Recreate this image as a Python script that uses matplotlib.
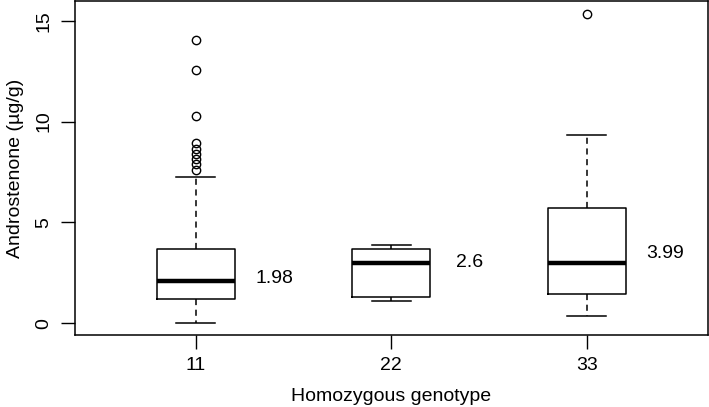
import matplotlib.pyplot as plt

plt.rcParams['font.family'] = ['Liberation Sans', 'DejaVu Sans']

# Boxplot statistics per genotype
genotypes = ['11', '22', '33']
q1 = [1.20, 1.32, 1.45]
medians = [2.09, 3.00, 3.00]
q3 = [3.66, 3.70, 5.69]
whisker_low = [0.02, 1.10, 0.35]
whisker_high = [7.24, 3.89, 9.34]
outliers = [
    [14.06, 12.56, 10.26, 8.93, 8.65, 8.40, 8.15, 7.90, 7.62],
    [],
    [15.36],
]
mean_labels = ['1.98', '2.6', '3.99']
label_y = [2.2, 3.0, 3.45]

stats = []
for i in range(len(genotypes)):
    stats.append({'med': medians[i], 'q1': q1[i], 'q3': q3[i],
                  'whislo': whisker_low[i], 'whishi': whisker_high[i],
                  'fliers': outliers[i], 'label': genotypes[i]})

fig = plt.figure(figsize=(7.09, 4.07), dpi=100)
ax = fig.add_axes([74.7 / 709, 1 - 335 / 407, (708 - 74.7) / 709, 335 / 407 - 0.002])

positions = [1, 2, 3]
ax.bxp(stats, positions=positions, widths=0.4, patch_artist=False,
       boxprops={'color': 'black', 'linewidth': 1.1},
       medianprops={'color': 'black', 'linewidth': 3.2},
       whiskerprops={'color': 'black', 'linewidth': 1.1, 'linestyle': (0, (4, 3))},
       capprops={'color': 'black', 'linewidth': 1.1},
       capwidths=0.2,
       flierprops={'marker': 'o', 'markerfacecolor': 'none', 'markeredgecolor': 'black',
                   'markersize': 6, 'markeredgewidth': 1.0})

for x, txt, y in zip(positions, mean_labels, label_y):
    ax.text(x + 0.4, y, txt, ha='center', va='center', fontsize=14)

ax.set_xlim(0.38, 3.62)
ax.set_ylim(-0.59, 15.99)
ax.set_yticks([0, 5, 10, 15])
ax.set_xticks(positions)
ax.set_xticklabels(genotypes)
ax.tick_params(axis='both', labelsize=14, length=10, width=1.0, direction='out', pad=6)
for lbl in ax.get_yticklabels():
    lbl.set_rotation(90)
    lbl.set_va('center')
for sp in ax.spines.values():
    sp.set_linewidth(1.1)

ax.set_xlabel('Homozygous genotype', fontsize=14, labelpad=10)
ax.set_ylabel('Androstenone (µg/g)', fontsize=14, labelpad=8)

fig.savefig('out.png', dpi=100)
